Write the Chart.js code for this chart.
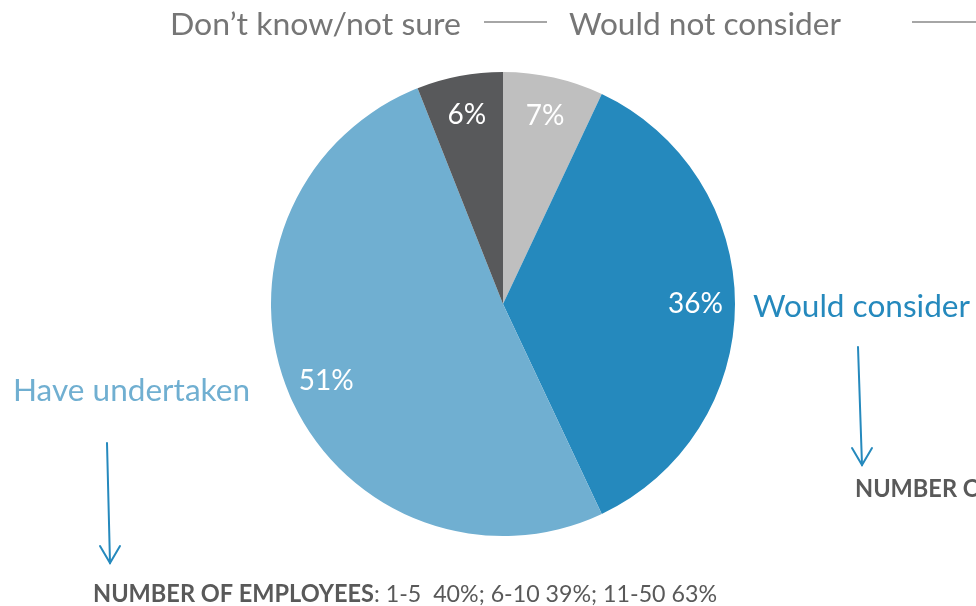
<!DOCTYPE html>
<html>
<head>
<meta charset="utf-8">
<script src="https://cdn.jsdelivr.net/npm/chart.js@4/dist/chart.umd.min.js"></script>
<style>
  html, body { margin: 0; padding: 0; background: #ffffff; }
  #wrap { width: 976px; height: 606px; }
</style>
</head>
<body>
<div id="wrap"><canvas id="chartPie" width="976" height="606"></canvas></div>
<script>
// Datos del gráfico (desde las 12 en punto, sentido horario)
const categorias = ['Would not consider', 'Would consider', 'Have undertaken', 'Don\u2019t know/not sure'];
const valores = [7, 36, 51, 6];
const colores = ['#bfbfbf', '#2589bd', '#70afd1', '#58595b'];
const notaEmpleados = ': 1-5  40%; 6-10 39%; 11-50 63%';

const FUENTE = 'Lato, "Open Sans", sans-serif';

// Dibuja texto ajustado a un ancho dado
function textoAjustado(ctx, texto, x, y, ancho, font, color) {
    ctx.save();
    ctx.font = font;
    ctx.fillStyle = color;
    ctx.textBaseline = 'alphabetic';
    ctx.textAlign = 'left';
    const w = ctx.measureText(texto).width;
    const k = ancho ? ancho / w : 1;
    ctx.translate(x, y);
    ctx.scale(k, 1);
    ctx.fillText(texto, 0, 0);
    ctx.restore();
    return k;
}

function flecha(ctx, x1, y1, x2, y2, color) {
    ctx.save();
    ctx.strokeStyle = color;
    ctx.lineWidth = 2;
    ctx.lineCap = 'round';
    ctx.beginPath();
    ctx.moveTo(x1, y1);
    ctx.lineTo(x2, y2);
    ctx.stroke();
    ctx.beginPath();
    ctx.moveTo(x2 - 10, y2 - 17);
    ctx.lineTo(x2, y2);
    ctx.lineTo(x2 + 10, y2 - 17);
    ctx.stroke();
    ctx.restore();
}

// Porcentajes dentro de cada sector
const pluginPorcentajes = {
    id: 'porcentajes',
    afterDatasetsDraw(chart) {
        const ctx = chart.ctx;
        const meta = chart.getDatasetMeta(0);
        ctx.save();
        ctx.font = '28px ' + FUENTE;
        ctx.fillStyle = '#ffffff';
        ctx.textAlign = 'center';
        ctx.textBaseline = 'middle';
        meta.data.forEach((arc, i) => {
            const p = arc.getProps(['x', 'y', 'startAngle', 'endAngle', 'outerRadius'], true);
            const mid = (p.startAngle + p.endAngle) / 2;
            const r = p.outerRadius * 0.83;
            ctx.fillText(valores[i] + '%', p.x + Math.cos(mid) * r, p.y + Math.sin(mid) * r);
        });
        ctx.restore();
    }
};

// Etiquetas, líneas y flechas
const pluginAnotaciones = {
    id: 'anotaciones',
    afterDraw(chart) {
        const ctx = chart.ctx;
        const gris = '#767676';

        textoAjustado(ctx, categorias[3], 170, 35, 291, '31px ' + FUENTE, gris);
        textoAjustado(ctx, categorias[0], 569, 35, 272, '31px ' + FUENTE, gris);

        ctx.save();
        ctx.strokeStyle = '#a6a6a6';
        ctx.lineWidth = 2;
        ctx.beginPath();
        ctx.moveTo(484, 22); ctx.lineTo(547, 22);
        ctx.moveTo(912, 22); ctx.lineTo(976, 22);
        ctx.stroke();
        ctx.restore();

        textoAjustado(ctx, categorias[1], 753, 317, 217, '31px ' + FUENTE, colores[1]);
        textoAjustado(ctx, categorias[2], 13, 401, 237, '31px ' + FUENTE, colores[2]);

        flecha(ctx, 107, 443, 110, 563, '#2589bd');
        flecha(ctx, 858, 347, 862, 465, '#2589bd');

        const k = textoAjustado(ctx, 'NUMBER OF EMPLOYEES', 93, 602, 281, 'bold 24px ' + FUENTE, '#595959');
        textoAjustado(ctx, notaEmpleados, 374, 602, 343, '24px ' + FUENTE, '#595959');

        ctx.save();
        ctx.font = 'bold 24px ' + FUENTE;
        ctx.fillStyle = '#595959';
        ctx.translate(855, 497);
        ctx.scale(k, 1);
        ctx.fillText('NUMBER OF EMPLOYEES', 0, 0);
        ctx.restore();
    }
};

new Chart(document.getElementById('chartPie'), {
    type: 'pie',
    data: {
        labels: categorias,
        datasets: [{
            data: valores,
            backgroundColor: colores,
            borderWidth: 0,
            hoverOffset: 0
        }]
    },
    options: {
        responsive: false,
        animation: false,
        devicePixelRatio: 1,
        layout: { padding: { top: 72, bottom: 70, left: 271, right: 241 } },
        plugins: {
            legend: { display: false },
            tooltip: { enabled: false }
        }
    },
    plugins: [pluginPorcentajes, pluginAnotaciones]
});
</script>
</body>
</html>
